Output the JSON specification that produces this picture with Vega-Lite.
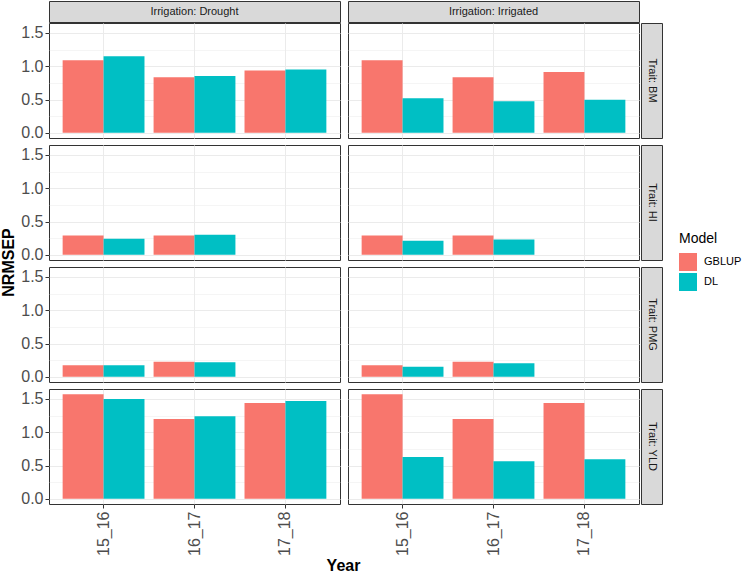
{
  "$schema": "https://vega.github.io/schema/vega-lite/v6.json",
  "padding": 0,
  "background": "white",
  "config": {
    "font": "Liberation Sans, Arial, sans-serif",
    "view": {"stroke": "#333333", "strokeWidth": 1},
    "axis": {"domain": false, "tickColor": "#333333", "tickSize": 4, "labelColor": "#4D4D4D", "labelFontSize": 16, "gridColor": "#EBEBEB", "labelPadding": 2},
    "legend": {"symbolType": "square", "symbolSize": 324, "symbolStrokeWidth": 0, "titleFontSize": 14, "titleFontWeight": "normal", "titleColor": "#000000", "labelFontSize": 11, "labelColor": "#000000", "rowPadding": 2, "titlePadding": 7, "labelOffset": 7, "padding": 0}
  },
  "datasets": {
    "nrmsep": [
      {"Irrigation": "Drought", "Trait": "BM", "Year": "15_16", "Model": "GBLUP", "NRMSEP": 1.09},
      {"Irrigation": "Drought", "Trait": "BM", "Year": "15_16", "Model": "DL", "NRMSEP": 1.15},
      {"Irrigation": "Drought", "Trait": "BM", "Year": "16_17", "Model": "GBLUP", "NRMSEP": 0.835},
      {"Irrigation": "Drought", "Trait": "BM", "Year": "16_17", "Model": "DL", "NRMSEP": 0.855},
      {"Irrigation": "Drought", "Trait": "BM", "Year": "17_18", "Model": "GBLUP", "NRMSEP": 0.935},
      {"Irrigation": "Drought", "Trait": "BM", "Year": "17_18", "Model": "DL", "NRMSEP": 0.95},
      {"Irrigation": "Irrigated", "Trait": "BM", "Year": "15_16", "Model": "GBLUP", "NRMSEP": 1.09},
      {"Irrigation": "Irrigated", "Trait": "BM", "Year": "15_16", "Model": "DL", "NRMSEP": 0.52},
      {"Irrigation": "Irrigated", "Trait": "BM", "Year": "16_17", "Model": "GBLUP", "NRMSEP": 0.835},
      {"Irrigation": "Irrigated", "Trait": "BM", "Year": "16_17", "Model": "DL", "NRMSEP": 0.475},
      {"Irrigation": "Irrigated", "Trait": "BM", "Year": "17_18", "Model": "GBLUP", "NRMSEP": 0.915},
      {"Irrigation": "Irrigated", "Trait": "BM", "Year": "17_18", "Model": "DL", "NRMSEP": 0.495},
      {"Irrigation": "Drought", "Trait": "HI", "Year": "15_16", "Model": "GBLUP", "NRMSEP": 0.29},
      {"Irrigation": "Drought", "Trait": "HI", "Year": "15_16", "Model": "DL", "NRMSEP": 0.24},
      {"Irrigation": "Drought", "Trait": "HI", "Year": "16_17", "Model": "GBLUP", "NRMSEP": 0.29},
      {"Irrigation": "Drought", "Trait": "HI", "Year": "16_17", "Model": "DL", "NRMSEP": 0.30},
      {"Irrigation": "Irrigated", "Trait": "HI", "Year": "15_16", "Model": "GBLUP", "NRMSEP": 0.29},
      {"Irrigation": "Irrigated", "Trait": "HI", "Year": "15_16", "Model": "DL", "NRMSEP": 0.21},
      {"Irrigation": "Irrigated", "Trait": "HI", "Year": "16_17", "Model": "GBLUP", "NRMSEP": 0.29},
      {"Irrigation": "Irrigated", "Trait": "HI", "Year": "16_17", "Model": "DL", "NRMSEP": 0.23},
      {"Irrigation": "Drought", "Trait": "PMG", "Year": "15_16", "Model": "GBLUP", "NRMSEP": 0.173},
      {"Irrigation": "Drought", "Trait": "PMG", "Year": "15_16", "Model": "DL", "NRMSEP": 0.173},
      {"Irrigation": "Drought", "Trait": "PMG", "Year": "16_17", "Model": "GBLUP", "NRMSEP": 0.228},
      {"Irrigation": "Drought", "Trait": "PMG", "Year": "16_17", "Model": "DL", "NRMSEP": 0.218},
      {"Irrigation": "Irrigated", "Trait": "PMG", "Year": "15_16", "Model": "GBLUP", "NRMSEP": 0.173},
      {"Irrigation": "Irrigated", "Trait": "PMG", "Year": "15_16", "Model": "DL", "NRMSEP": 0.15},
      {"Irrigation": "Irrigated", "Trait": "PMG", "Year": "16_17", "Model": "GBLUP", "NRMSEP": 0.228},
      {"Irrigation": "Irrigated", "Trait": "PMG", "Year": "16_17", "Model": "DL", "NRMSEP": 0.203},
      {"Irrigation": "Drought", "Trait": "YLD", "Year": "15_16", "Model": "GBLUP", "NRMSEP": 1.57},
      {"Irrigation": "Drought", "Trait": "YLD", "Year": "15_16", "Model": "DL", "NRMSEP": 1.50},
      {"Irrigation": "Drought", "Trait": "YLD", "Year": "16_17", "Model": "GBLUP", "NRMSEP": 1.20},
      {"Irrigation": "Drought", "Trait": "YLD", "Year": "16_17", "Model": "DL", "NRMSEP": 1.24},
      {"Irrigation": "Drought", "Trait": "YLD", "Year": "17_18", "Model": "GBLUP", "NRMSEP": 1.44},
      {"Irrigation": "Drought", "Trait": "YLD", "Year": "17_18", "Model": "DL", "NRMSEP": 1.47},
      {"Irrigation": "Irrigated", "Trait": "YLD", "Year": "15_16", "Model": "GBLUP", "NRMSEP": 1.57},
      {"Irrigation": "Irrigated", "Trait": "YLD", "Year": "15_16", "Model": "DL", "NRMSEP": 0.63},
      {"Irrigation": "Irrigated", "Trait": "YLD", "Year": "16_17", "Model": "GBLUP", "NRMSEP": 1.20},
      {"Irrigation": "Irrigated", "Trait": "YLD", "Year": "16_17", "Model": "DL", "NRMSEP": 0.566},
      {"Irrigation": "Irrigated", "Trait": "YLD", "Year": "17_18", "Model": "GBLUP", "NRMSEP": 1.44},
      {"Irrigation": "Irrigated", "Trait": "YLD", "Year": "17_18", "Model": "DL", "NRMSEP": 0.596}
    ]
  },
  "spacing": 2,
  "hconcat": [
    {
      "width": 18, "height": 502,
      "view": {"stroke": null},
      "data": {"values": [{"t": "NRMSEP"}]},
      "mark": {"type": "text", "angle": 270, "fontSize": 16, "fontWeight": "bold", "color": "#000000", "dx": -10.5, "baseline": "middle", "align": "center"},
      "encoding": {"text": {"field": "t", "type": "nominal"}}
    },
    {
      "spacing": -2,
      "vconcat": [
        {
          "spacing": 6,
          "hconcat": [
            {
              "width": 291, "height": 21,
              "view": {"fill": "#D9D9D9", "stroke": "#333333"},
              "data": {"values": [{"label": "Irrigation: Drought"}]},
              "mark": {"type": "text", "fontSize": 11, "color": "#1A1A1A", "baseline": "middle", "align": "center"},
              "encoding": {
                "text": {"field": "label", "type": "nominal"},
                "y": {"datum": 0.786, "type": "quantitative", "scale": {"domain": [-0.078, 1.65], "nice": false, "zero": false}, "axis": {"values": [0.786], "labelExpr": "'0.0'", "labelOpacity": 0, "tickOpacity": 0, "grid": false, "title": null}}
              }
            },
            {
              "width": 291, "height": 21,
              "view": {"fill": "#D9D9D9", "stroke": "#333333"},
              "data": {"values": [{"label": "Irrigation: Irrigated"}]},
              "mark": {"type": "text", "fontSize": 11, "color": "#1A1A1A", "baseline": "middle", "align": "center"},
              "encoding": {"text": {"field": "label", "type": "nominal"}}
            }
          ]
        },
        {
          "spacing": 2,
          "vconcat": [
            {
              "spacing": 0,
              "hconcat": [
                {
                  "spacing": 6,
                  "hconcat": [
                    {
                      "width": 291, "height": 115,
                      "data": {"name": "nrmsep"},
                      "transform": [{"filter": "datum.Irrigation === 'Drought' && datum.Trait === 'BM'"}],
                      "mark": {"type": "bar"},
                      "encoding": {
                        "x": {"field": "Year", "type": "nominal", "scale": {"domain": ["15_16", "16_17", "17_18"], "paddingInner": 0.1, "paddingOuter": 0.15}, "axis": {"labels": false, "ticks": false, "tickSize": 0, "labelPadding": 0, "minExtent": 0, "maxExtent": 0, "title": null, "grid": true, "bandPosition": 0.5}},
                        "xOffset": {"field": "Model", "type": "nominal", "scale": {"domain": ["GBLUP", "DL"], "paddingInner": 0, "paddingOuter": 0}},
                        "y": {"field": "NRMSEP", "type": "quantitative", "scale": {"domain": [-0.078, 1.65], "nice": false, "zero": false}, "axis": {"values": [0, 0.25, 0.5, 0.75, 1, 1.25, 1.5], "labelExpr": "datum.value % 0.5 === 0 ? format(datum.value, '.1f') : ''", "tickOpacity": {"condition": {"test": "datum.value % 0.5 !== 0", "value": 0}, "value": 1}, "gridWidth": {"condition": {"test": "datum.value % 0.5 !== 0", "value": 0.5}, "value": 1}, "grid": true, "title": null}},
                        "y2": {"datum": 0},
                        "color": {"field": "Model", "type": "nominal", "scale": {"domain": ["GBLUP", "DL"], "range": ["#F8766D", "#00BFC4"]}, "legend": {"title": "Model", "orient": "none", "legendX": 679, "legendY": 231}}
                      }
                    },
                    {
                      "width": 291, "height": 115,
                      "data": {"name": "nrmsep"},
                      "transform": [{"filter": "datum.Irrigation === 'Irrigated' && datum.Trait === 'BM'"}],
                      "mark": {"type": "bar"},
                      "encoding": {
                        "x": {"field": "Year", "type": "nominal", "scale": {"domain": ["15_16", "16_17", "17_18"], "paddingInner": 0.1, "paddingOuter": 0.15}, "axis": {"labels": false, "ticks": false, "tickSize": 0, "labelPadding": 0, "minExtent": 0, "maxExtent": 0, "title": null, "grid": true, "bandPosition": 0.5}},
                        "xOffset": {"field": "Model", "type": "nominal", "scale": {"domain": ["GBLUP", "DL"], "paddingInner": 0, "paddingOuter": 0}},
                        "y": {"field": "NRMSEP", "type": "quantitative", "scale": {"domain": [-0.078, 1.65], "nice": false, "zero": false}, "axis": {"values": [0, 0.25, 0.5, 0.75, 1, 1.25, 1.5], "labels": false, "ticks": false, "tickSize": 0, "labelPadding": 0, "minExtent": 0, "maxExtent": 0, "gridWidth": {"condition": {"test": "datum.value % 0.5 !== 0", "value": 0.5}, "value": 1}, "grid": true, "title": null}},
                        "y2": {"datum": 0},
                        "color": {"field": "Model", "type": "nominal", "scale": {"domain": ["GBLUP", "DL"], "range": ["#F8766D", "#00BFC4"]}, "legend": {"title": "Model", "orient": "none", "legendX": 679, "legendY": 231}}
                      }
                    }
                  ]
                },
                {
                  "width": 21, "height": 115,
                  "view": {"fill": "#D9D9D9", "stroke": "#333333"},
                  "data": {"values": [{"label": "Trait: BM"}]},
                  "mark": {"type": "text", "angle": 90, "fontSize": 11, "color": "#1A1A1A", "baseline": "middle", "align": "center"},
                  "encoding": {"text": {"field": "label", "type": "nominal"}}
                }
              ]
            },
            {
              "spacing": 0,
              "hconcat": [
                {
                  "spacing": 6,
                  "hconcat": [
                    {
                      "width": 291, "height": 115,
                      "data": {"name": "nrmsep"},
                      "transform": [{"filter": "datum.Irrigation === 'Drought' && datum.Trait === 'HI'"}],
                      "mark": {"type": "bar"},
                      "encoding": {
                        "x": {"field": "Year", "type": "nominal", "scale": {"domain": ["15_16", "16_17", "17_18"], "paddingInner": 0.1, "paddingOuter": 0.15}, "axis": {"labels": false, "ticks": false, "tickSize": 0, "labelPadding": 0, "minExtent": 0, "maxExtent": 0, "title": null, "grid": true, "bandPosition": 0.5}},
                        "xOffset": {"field": "Model", "type": "nominal", "scale": {"domain": ["GBLUP", "DL"], "paddingInner": 0, "paddingOuter": 0}},
                        "y": {"field": "NRMSEP", "type": "quantitative", "scale": {"domain": [-0.078, 1.65], "nice": false, "zero": false}, "axis": {"values": [0, 0.25, 0.5, 0.75, 1, 1.25, 1.5], "labelExpr": "datum.value % 0.5 === 0 ? format(datum.value, '.1f') : ''", "tickOpacity": {"condition": {"test": "datum.value % 0.5 !== 0", "value": 0}, "value": 1}, "gridWidth": {"condition": {"test": "datum.value % 0.5 !== 0", "value": 0.5}, "value": 1}, "grid": true, "title": null}},
                        "y2": {"datum": 0},
                        "color": {"field": "Model", "type": "nominal", "scale": {"domain": ["GBLUP", "DL"], "range": ["#F8766D", "#00BFC4"]}, "legend": {"title": "Model", "orient": "none", "legendX": 679, "legendY": 231}}
                      }
                    },
                    {
                      "width": 291, "height": 115,
                      "data": {"name": "nrmsep"},
                      "transform": [{"filter": "datum.Irrigation === 'Irrigated' && datum.Trait === 'HI'"}],
                      "mark": {"type": "bar"},
                      "encoding": {
                        "x": {"field": "Year", "type": "nominal", "scale": {"domain": ["15_16", "16_17", "17_18"], "paddingInner": 0.1, "paddingOuter": 0.15}, "axis": {"labels": false, "ticks": false, "tickSize": 0, "labelPadding": 0, "minExtent": 0, "maxExtent": 0, "title": null, "grid": true, "bandPosition": 0.5}},
                        "xOffset": {"field": "Model", "type": "nominal", "scale": {"domain": ["GBLUP", "DL"], "paddingInner": 0, "paddingOuter": 0}},
                        "y": {"field": "NRMSEP", "type": "quantitative", "scale": {"domain": [-0.078, 1.65], "nice": false, "zero": false}, "axis": {"values": [0, 0.25, 0.5, 0.75, 1, 1.25, 1.5], "labels": false, "ticks": false, "tickSize": 0, "labelPadding": 0, "minExtent": 0, "maxExtent": 0, "gridWidth": {"condition": {"test": "datum.value % 0.5 !== 0", "value": 0.5}, "value": 1}, "grid": true, "title": null}},
                        "y2": {"datum": 0},
                        "color": {"field": "Model", "type": "nominal", "scale": {"domain": ["GBLUP", "DL"], "range": ["#F8766D", "#00BFC4"]}, "legend": {"title": "Model", "orient": "none", "legendX": 679, "legendY": 231}}
                      }
                    }
                  ]
                },
                {
                  "width": 21, "height": 115,
                  "view": {"fill": "#D9D9D9", "stroke": "#333333"},
                  "data": {"values": [{"label": "Trait: HI"}]},
                  "mark": {"type": "text", "angle": 90, "fontSize": 11, "color": "#1A1A1A", "baseline": "middle", "align": "center"},
                  "encoding": {"text": {"field": "label", "type": "nominal"}}
                }
              ]
            },
            {
              "spacing": 0,
              "hconcat": [
                {
                  "spacing": 6,
                  "hconcat": [
                    {
                      "width": 291, "height": 115,
                      "data": {"name": "nrmsep"},
                      "transform": [{"filter": "datum.Irrigation === 'Drought' && datum.Trait === 'PMG'"}],
                      "mark": {"type": "bar"},
                      "encoding": {
                        "x": {"field": "Year", "type": "nominal", "scale": {"domain": ["15_16", "16_17", "17_18"], "paddingInner": 0.1, "paddingOuter": 0.15}, "axis": {"labels": false, "ticks": false, "tickSize": 0, "labelPadding": 0, "minExtent": 0, "maxExtent": 0, "title": null, "grid": true, "bandPosition": 0.5}},
                        "xOffset": {"field": "Model", "type": "nominal", "scale": {"domain": ["GBLUP", "DL"], "paddingInner": 0, "paddingOuter": 0}},
                        "y": {"field": "NRMSEP", "type": "quantitative", "scale": {"domain": [-0.078, 1.65], "nice": false, "zero": false}, "axis": {"values": [0, 0.25, 0.5, 0.75, 1, 1.25, 1.5], "labelExpr": "datum.value % 0.5 === 0 ? format(datum.value, '.1f') : ''", "tickOpacity": {"condition": {"test": "datum.value % 0.5 !== 0", "value": 0}, "value": 1}, "gridWidth": {"condition": {"test": "datum.value % 0.5 !== 0", "value": 0.5}, "value": 1}, "grid": true, "title": null}},
                        "y2": {"datum": 0},
                        "color": {"field": "Model", "type": "nominal", "scale": {"domain": ["GBLUP", "DL"], "range": ["#F8766D", "#00BFC4"]}, "legend": {"title": "Model", "orient": "none", "legendX": 679, "legendY": 231}}
                      }
                    },
                    {
                      "width": 291, "height": 115,
                      "data": {"name": "nrmsep"},
                      "transform": [{"filter": "datum.Irrigation === 'Irrigated' && datum.Trait === 'PMG'"}],
                      "mark": {"type": "bar"},
                      "encoding": {
                        "x": {"field": "Year", "type": "nominal", "scale": {"domain": ["15_16", "16_17", "17_18"], "paddingInner": 0.1, "paddingOuter": 0.15}, "axis": {"labels": false, "ticks": false, "tickSize": 0, "labelPadding": 0, "minExtent": 0, "maxExtent": 0, "title": null, "grid": true, "bandPosition": 0.5}},
                        "xOffset": {"field": "Model", "type": "nominal", "scale": {"domain": ["GBLUP", "DL"], "paddingInner": 0, "paddingOuter": 0}},
                        "y": {"field": "NRMSEP", "type": "quantitative", "scale": {"domain": [-0.078, 1.65], "nice": false, "zero": false}, "axis": {"values": [0, 0.25, 0.5, 0.75, 1, 1.25, 1.5], "labels": false, "ticks": false, "tickSize": 0, "labelPadding": 0, "minExtent": 0, "maxExtent": 0, "gridWidth": {"condition": {"test": "datum.value % 0.5 !== 0", "value": 0.5}, "value": 1}, "grid": true, "title": null}},
                        "y2": {"datum": 0},
                        "color": {"field": "Model", "type": "nominal", "scale": {"domain": ["GBLUP", "DL"], "range": ["#F8766D", "#00BFC4"]}, "legend": {"title": "Model", "orient": "none", "legendX": 679, "legendY": 231}}
                      }
                    }
                  ]
                },
                {
                  "width": 21, "height": 115,
                  "view": {"fill": "#D9D9D9", "stroke": "#333333"},
                  "data": {"values": [{"label": "Trait: PMG"}]},
                  "mark": {"type": "text", "angle": 90, "fontSize": 11, "color": "#1A1A1A", "baseline": "middle", "align": "center"},
                  "encoding": {"text": {"field": "label", "type": "nominal"}}
                }
              ]
            },
            {
              "spacing": 0,
              "hconcat": [
                {
                  "spacing": 6,
                  "hconcat": [
                    {
                      "width": 291, "height": 115,
                      "data": {"name": "nrmsep"},
                      "transform": [{"filter": "datum.Irrigation === 'Drought' && datum.Trait === 'YLD'"}],
                      "mark": {"type": "bar"},
                      "encoding": {
                        "x": {"field": "Year", "type": "nominal", "scale": {"domain": ["15_16", "16_17", "17_18"], "paddingInner": 0.1, "paddingOuter": 0.15}, "axis": {"labelAngle": 270, "title": null, "grid": true, "bandPosition": 0.5, "labelPadding": 3}},
                        "xOffset": {"field": "Model", "type": "nominal", "scale": {"domain": ["GBLUP", "DL"], "paddingInner": 0, "paddingOuter": 0}},
                        "y": {"field": "NRMSEP", "type": "quantitative", "scale": {"domain": [-0.078, 1.65], "nice": false, "zero": false}, "axis": {"values": [0, 0.25, 0.5, 0.75, 1, 1.25, 1.5], "labelExpr": "datum.value % 0.5 === 0 ? format(datum.value, '.1f') : ''", "tickOpacity": {"condition": {"test": "datum.value % 0.5 !== 0", "value": 0}, "value": 1}, "gridWidth": {"condition": {"test": "datum.value % 0.5 !== 0", "value": 0.5}, "value": 1}, "grid": true, "title": null}},
                        "y2": {"datum": 0},
                        "color": {"field": "Model", "type": "nominal", "scale": {"domain": ["GBLUP", "DL"], "range": ["#F8766D", "#00BFC4"]}, "legend": {"title": "Model", "orient": "none", "legendX": 679, "legendY": 231}}
                      }
                    },
                    {
                      "width": 291, "height": 115,
                      "data": {"name": "nrmsep"},
                      "transform": [{"filter": "datum.Irrigation === 'Irrigated' && datum.Trait === 'YLD'"}],
                      "mark": {"type": "bar"},
                      "encoding": {
                        "x": {"field": "Year", "type": "nominal", "scale": {"domain": ["15_16", "16_17", "17_18"], "paddingInner": 0.1, "paddingOuter": 0.15}, "axis": {"labelAngle": 270, "title": null, "grid": true, "bandPosition": 0.5, "labelPadding": 3}},
                        "xOffset": {"field": "Model", "type": "nominal", "scale": {"domain": ["GBLUP", "DL"], "paddingInner": 0, "paddingOuter": 0}},
                        "y": {"field": "NRMSEP", "type": "quantitative", "scale": {"domain": [-0.078, 1.65], "nice": false, "zero": false}, "axis": {"values": [0, 0.25, 0.5, 0.75, 1, 1.25, 1.5], "labels": false, "ticks": false, "tickSize": 0, "labelPadding": 0, "minExtent": 0, "maxExtent": 0, "gridWidth": {"condition": {"test": "datum.value % 0.5 !== 0", "value": 0.5}, "value": 1}, "grid": true, "title": null}},
                        "y2": {"datum": 0},
                        "color": {"field": "Model", "type": "nominal", "scale": {"domain": ["GBLUP", "DL"], "range": ["#F8766D", "#00BFC4"]}, "legend": {"title": "Model", "orient": "none", "legendX": 679, "legendY": 231}}
                      }
                    }
                  ]
                },
                {
                  "width": 21, "height": 115,
                  "view": {"fill": "#D9D9D9", "stroke": "#333333"},
                  "data": {"values": [{"label": "Trait: YLD"}]},
                  "mark": {"type": "text", "angle": 90, "fontSize": 11, "color": "#1A1A1A", "baseline": "middle", "align": "center"},
                  "encoding": {"text": {"field": "label", "type": "nominal"}}
                }
              ]
            }
          ]
        },
        {
          "width": 589, "height": 20,
          "view": {"stroke": null},
          "data": {"values": [{"t": "Year"}]},
          "mark": {"type": "text", "fontSize": 16, "fontWeight": "bold", "color": "#000000", "baseline": "middle", "align": "center"},
          "encoding": {
            "text": {"field": "t", "type": "nominal"},
            "y": {"datum": 0.786, "type": "quantitative", "scale": {"domain": [-0.078, 1.65], "nice": false, "zero": false}, "axis": {"values": [0.786], "labelExpr": "'0.0'", "labelOpacity": 0, "tickOpacity": 0, "grid": false, "title": null}}
          }
        }
      ]
    }
  ]
}
